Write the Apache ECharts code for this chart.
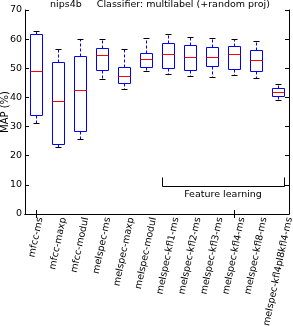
<!DOCTYPE html>
<html><head><meta charset="utf-8">
<script src="https://cdn.jsdelivr.net/npm/echarts@6/dist/echarts.min.js"></script>
<style>html,body{margin:0;padding:0;background:#fff}#c{width:293px;height:327px}</style>
</head><body><div id="c"></div>
<script>
const categories = ['mfcc-ms','mfcc-maxp','mfcc-modul','melspec-ms','melspec-maxp','melspec-modul','melspec-kfl1-ms','melspec-kfl2-ms','melspec-kfl3-ms','melspec-kfl4-ms','melspec-kfl8-ms','melspec-kfl4pl8kfl4-ms'];
const whiskerLow  = [31.1, 22.9, 25.6, 46.3, 42.8, 49.0, 47.9, 47.5, 46.9, 47.6, 46.6, 39.2];
const q1          = [34.0, 23.9, 28.6, 49.4, 44.8, 50.3, 50.2, 49.5, 50.8, 49.9, 49.2, 40.6];
const median      = [49.0, 38.7, 42.4, 54.6, 47.2, 53.2, 54.9, 53.8, 54.0, 54.8, 52.7, 42.0];
const q3          = [61.8, 52.3, 54.3, 57.1, 50.5, 55.1, 58.6, 57.9, 57.4, 57.8, 56.4, 43.3];
const whiskerHigh = [62.9, 56.6, 60.0, 60.0, 56.6, 60.3, 61.7, 60.9, 60.5, 60.2, 59.4, 44.7];
const yTickMin = 0, yTickMax = 70, yTickStep = 10;
const titleText = 'nips4b     Classifier: multilabel (+random proj)';
const yLabel = 'MAP (%)';
const groupLabel = 'Feature learning';
const groupFirst = 6, groupLast = 11;
const groupLineY = 9.7, groupTipY = 12.6, groupTextY = 6.6;

const FONT = 'DejaVu Sans';
const LABEL_SIZE = 9.5;
const BOX_HALF = 0.26, CAP_HALF = 0.13;
const LABEL_ROT = 78 * Math.PI / 180;
const mctx = document.createElement('canvas').getContext('2d');
mctx.font = LABEL_SIZE + 'px "' + FONT + '"';
const r = v => Math.round(v) + 0.5;

const boxData = categories.map((c, i) => [i, whiskerLow[i], q1[i], median[i], q3[i], whiskerHigh[i]]);

const chart = echarts.init(document.getElementById('c'), null, {renderer: 'canvas'});
const axisCommon = {
  axisLine: {show: true, lineStyle: {color: '#000', width: 1}},
  axisTick: {show: true, inside: true, length: 4, lineStyle: {color: '#000'}},
  splitLine: {show: false}
};
const catTick = {show: true, inside: true, length: 4, alignWithLabel: true, lineStyle: {color: '#000'}};
chart.setOption({
  animation: false,
  textStyle: {fontFamily: FONT},
  title: {text: titleText, left: 50, top: 0, padding: 0,
    textStyle: {fontSize: 9.5, fontWeight: 'normal', color: '#000', fontFamily: FONT}},
  graphic: [{type: 'text', x: 5.5, y: 112, rotation: Math.PI / 2,
    style: {text: yLabel, fill: '#000', fontSize: 10, fontFamily: FONT,
      align: 'center', verticalAlign: 'middle', textAlign: 'center', textVerticalAlign: 'middle'}}],
  grid: {left: 25, right: 4, top: 10, bottom: 113, containLabel: false},
  xAxis: [
    Object.assign({type: 'category', data: categories, position: 'bottom', boundaryGap: true,
      axisLabel: {show: false}}, axisCommon, {axisTick: catTick}),
    Object.assign({type: 'category', data: categories, position: 'top', boundaryGap: true,
      axisLabel: {show: false}}, axisCommon, {axisTick: catTick})
  ],
  yAxis: [
    Object.assign({type: 'value', min: yTickMin, max: yTickMax, interval: yTickStep, position: 'left',
      axisLabel: {fontSize: 9.5, color: '#000', margin: 3, fontFamily: FONT}}, axisCommon),
    Object.assign({type: 'value', min: yTickMin, max: yTickMax, interval: yTickStep, position: 'right',
      axisLabel: {show: false}}, axisCommon)
  ],
  series: [
    {
      type: 'custom', xAxisIndex: 0, yAxisIndex: 0,
      encode: {x: 0, y: [1, 2, 3, 4, 5]},
      data: boxData,
      renderItem: function (params, api) {
        const xi = api.value(0);
        const bw = api.size([1, 0])[0];
        const cx = api.coord([xi, 0])[0];
        const half = bw * BOX_HALF, cap = bw * CAP_HALF;
        const y = k => api.coord([xi, api.value(k)])[1];
        const yl = r(y(1)), yq1 = r(y(2)), ym = r(y(3)), yq3 = r(y(4)), yh = r(y(5));
        const xc = r(cx), xl = r(cx - half), xr = r(cx + half);
        return {type: 'group', children: [
          {type: 'line', shape: {x1: xc, y1: yq3, x2: xc, y2: yh}, style: {stroke: '#0000ff', lineWidth: 1, lineDash: [3, 2]}},
          {type: 'line', shape: {x1: xc, y1: yq1, x2: xc, y2: yl}, style: {stroke: '#0000ff', lineWidth: 1, lineDash: [3, 2]}},
          {type: 'line', shape: {x1: r(cx - cap), y1: yh, x2: r(cx + cap), y2: yh}, style: {stroke: '#000', lineWidth: 1}},
          {type: 'line', shape: {x1: r(cx - cap), y1: yl, x2: r(cx + cap), y2: yl}, style: {stroke: '#000', lineWidth: 1}},
          {type: 'rect', shape: {x: xl, y: yq3, width: xr - xl, height: yq1 - yq3}, style: {fill: 'none', stroke: '#0000ff', lineWidth: 1}},
          {type: 'line', shape: {x1: xl, y1: ym, x2: xr, y2: ym}, style: {stroke: '#ff0000', lineWidth: 1}}
        ]};
      }
    },
    {
      type: 'custom', xAxisIndex: 0, yAxisIndex: 0, silent: true,
      encode: {x: [0, 1], y: [2, 3, 4]},
      data: [[groupFirst, groupLast, groupLineY, groupTipY, groupTextY]],
      renderItem: function (params, api) {
        const bw = api.size([1, 0])[0];
        const xa = api.coord([api.value(0), 0])[0] - bw * BOX_HALF;
        const xb = api.coord([api.value(1), 0])[0] + bw * BOX_HALF;
        const yLine = r(api.coord([0, api.value(2)])[1]);
        const yTip = r(api.coord([0, api.value(3)])[1]);
        const yText = api.coord([0, api.value(4)])[1];
        return {type: 'group', children: [
          {type: 'polyline', shape: {points: [[r(xa), yTip], [r(xa), yLine], [r(xb), yLine], [r(xb), yTip]]},
            style: {stroke: '#000', lineWidth: 1, fill: 'none'}},
          {type: 'text', x: (xa + xb) / 2, y: yText,
            style: {text: groupLabel, fill: '#000', fontSize: 9.5, fontFamily: FONT,
              align: 'center', verticalAlign: 'middle', textAlign: 'center', textVerticalAlign: 'middle'}}
        ]};
      }
    },
    {
      type: 'custom', xAxisIndex: 0, yAxisIndex: 0, silent: true,
      encode: {x: 0, y: 1},
      data: categories.map((c, i) => [i, 0]),
      renderItem: function (params, api) {
        const label = categories[params.dataIndex];
        const p = api.coord([api.value(0), 0]);
        const w = mctx.measureText(label).width;
        return {type: 'text', x: p[0] + w * Math.cos(LABEL_ROT) / 2, y: p[1] + 3.5, rotation: LABEL_ROT,
          style: {text: label, fill: '#000', fontSize: LABEL_SIZE, fontFamily: FONT,
            align: 'right', verticalAlign: 'middle', textAlign: 'right', textVerticalAlign: 'middle'}};
      }
    }
  ]
});
</script></body></html>
